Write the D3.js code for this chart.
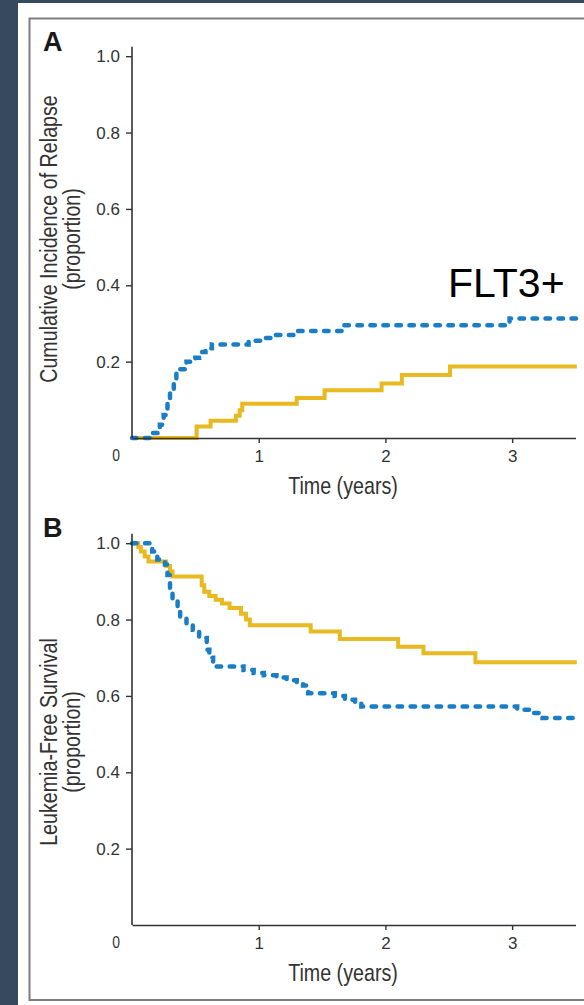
<!DOCTYPE html>
<html>
<head>
<meta charset="utf-8">
<script src="https://cdn.jsdelivr.net/npm/d3@7"></script>
<style>
  html, body { margin: 0; padding: 0; background: #36495d; }
  svg { display: block; }
</style>
</head>
<body>
<svg id="chart" width="584" height="1005"></svg>
<script>
// Panel A: cumulative incidence of relapse (step functions)
const relapseFltTimes  = [0, 0.15, 0.22, 0.25, 0.28, 0.30, 0.33, 0.35, 0.38, 0.43, 0.50, 0.53, 0.58, 0.63, 0.92, 1.05, 1.10, 1.28, 1.66, 2.98, 3.51];
const relapseFltValues = [0, 0.013, 0.035, 0.06, 0.09, 0.12, 0.15, 0.17, 0.18, 0.20, 0.21, 0.225, 0.235, 0.245, 0.255, 0.262, 0.27, 0.28, 0.295, 0.313, 0.313];
const relapseWtTimes   = [0, 0.51, 0.62, 0.82, 0.85, 0.87, 1.30, 1.52, 1.97, 2.13, 2.51, 3.51];
const relapseWtValues  = [0, 0.03, 0.045, 0.058, 0.073, 0.09, 0.105, 0.125, 0.143, 0.165, 0.187, 0.187];

// Panel B: leukemia-free survival (step functions)
const lfsFltTimes  = [0, 0.16, 0.20, 0.26, 0.28, 0.30, 0.32, 0.36, 0.38, 0.43, 0.48, 0.53, 0.59, 0.61, 0.64, 0.88, 0.96, 1.04, 1.14, 1.22, 1.30, 1.35, 1.39, 1.60, 1.68, 1.76, 1.81, 3.04, 3.14, 3.24, 3.49];
const lfsFltValues = [1.0, 0.978, 0.957, 0.944, 0.917, 0.883, 0.852, 0.826, 0.805, 0.786, 0.773, 0.752, 0.721, 0.70, 0.677, 0.668, 0.66, 0.654, 0.648, 0.641, 0.636, 0.627, 0.607, 0.60, 0.59, 0.581, 0.572, 0.564, 0.555, 0.542, 0.542];
const lfsWtTimes   = [0, 0.05, 0.07, 0.10, 0.13, 0.27, 0.30, 0.32, 0.55, 0.57, 0.61, 0.66, 0.71, 0.77, 0.86, 0.90, 0.93, 1.41, 1.64, 2.10, 2.30, 2.71, 3.51];
const lfsWtValues  = [1.0, 0.99, 0.978, 0.965, 0.952, 0.94, 0.926, 0.913, 0.89, 0.873, 0.862, 0.852, 0.842, 0.83, 0.815, 0.80, 0.785, 0.769, 0.749, 0.729, 0.712, 0.688, 0.688];

// Axis ticks
const xTickValues = [1, 2, 3];
const yTickValues = [0.2, 0.4, 0.6, 0.8, 1.0];

const BLUE = "#1a7ec6";
const GOLD = "#e8b920";
const INK = "#333333";

const svg = d3.select("#chart");

// Condensed face: use the narrow family when installed, otherwise squeeze the regular one
const ctx = document.createElement("canvas").getContext("2d");
ctx.font = "40px 'Liberation Sans Narrow', 'Liberation Sans'";
const wNarrow = ctx.measureText("Cumulative Incidence").width;
ctx.font = "40px 'Liberation Sans'";
const wRegular = ctx.measureText("Cumulative Incidence").width;
const hasNarrow = wNarrow < wRegular * 0.95;
const condFamily = hasNarrow ? "'Liberation Sans Narrow', 'Liberation Sans', Arial, sans-serif" : "'Liberation Sans', Arial, sans-serif";
const squeeze = hasNarrow ? 1 : 0.82;

function condText(parent, x, y, str, size, anchor, rotate) {
  const g = parent.append("g")
    .attr("transform", `translate(${x},${y}) rotate(${rotate || 0}) scale(${squeeze},1)`);
  return g.append("text")
    .attr("font-family", condFamily)
    .attr("font-size", size)
    .attr("text-anchor", anchor || "middle")
    .attr("fill", INK)
    .text(str);
}

// Page card and frame
svg.append("rect").attr("x", 18).attr("y", 3).attr("width", 566).attr("height", 1002).attr("fill", "#ffffff");
svg.append("rect").attr("x", 29.5).attr("y", 18.5).attr("width", 600).attr("height", 981.5)
  .attr("fill", "none").attr("stroke", "#7d7d7d").attr("stroke-width", 2);

const x = d3.scaleLinear().domain([0, 3.5]).range([132, 575.5]);

function panel(opts) {
  const y = d3.scaleLinear().domain([0, 1]).range([opts.bottom, opts.bottom - 381.8]);
  const g = svg.append("g");

  // panel letter
  g.append("text").attr("x", 43).attr("y", opts.letterY)
    .attr("font-family", "'Liberation Sans', Arial, sans-serif")
    .attr("font-weight", "bold").attr("font-size", 27).attr("fill", "#1a1a1a")
    .text(opts.letter);

  // curves
  const line = d3.line().x(d => x(d[0])).y(d => y(d[1])).curve(d3.curveStepAfter);
  g.append("path")
    .attr("d", line(d3.zip(opts.wtT, opts.wtV)))
    .attr("fill", "none").attr("stroke", GOLD).attr("stroke-width", 4);
  g.append("path")
    .attr("d", line(d3.zip(opts.fltT, opts.fltV)))
    .attr("fill", "none").attr("stroke", BLUE).attr("stroke-width", 4.5)
    .attr("stroke-dasharray", "4.5,8.5").attr("stroke-linecap", "round");

  // y axis
  const yAx = g.append("g").attr("transform", `translate(${x(0)},0)`)
    .call(d3.axisLeft(y).tickValues(yTickValues).tickFormat(d3.format(".1f")).tickSize(6).tickPadding(6));
  yAx.select(".domain").remove();
  yAx.append("line").attr("x1", 0).attr("x2", 0).attr("y1", y(0)).attr("y2", y(1) - 9.5)
    .attr("stroke", INK).attr("stroke-width", 1.6);

  // x axis
  const xAx = g.append("g").attr("transform", `translate(0,${y(0)})`)
    .call(d3.axisBottom(x).tickValues(xTickValues).tickFormat(d3.format("d")).tickSize(5).tickPadding(7).tickSizeOuter(0));

  [yAx, xAx].forEach(ax => {
    ax.selectAll(".domain").attr("stroke", INK).attr("stroke-width", 1.6);
    ax.selectAll(".tick line").attr("stroke", INK).attr("stroke-width", 1.4);
    ax.selectAll(".tick text").attr("font-family", condFamily).attr("font-size", 17).attr("fill", INK);
  });

  // origin label
  condText(g, x(0) - 16, y(0) + 23, "0", 17, "middle");

  // axis titles
  condText(g, 343, y(0) + 56, "Time (years)", 24, "middle");
  condText(g, 57, opts.titleCenter, opts.title, 24, "middle", -90);
  condText(g, 80, opts.titleCenter, "(proportion)", 24, "middle", -90);
  return { g, y };
}

const pa = panel({
  letter: "A", letterY: 51, bottom: 438,
  title: "Cumulative Incidence of Relapse", titleCenter: 239,
  fltT: relapseFltTimes, fltV: relapseFltValues,
  wtT: relapseWtTimes, wtV: relapseWtValues
});

panel({
  letter: "B", letterY: 537, bottom: 925,
  title: "Leukemia-Free Survival", titleCenter: 742,
  fltT: lfsFltTimes, fltV: lfsFltValues,
  wtT: lfsWtTimes, wtV: lfsWtValues
});

// series label
pa.g.append("text").attr("x", 448).attr("y", 297)
  .attr("font-family", "'Liberation Sans', Arial, sans-serif")
  .attr("font-size", 41).attr("fill", "#000000")
  .text("FLT3+");
</script>
</body>
</html>
